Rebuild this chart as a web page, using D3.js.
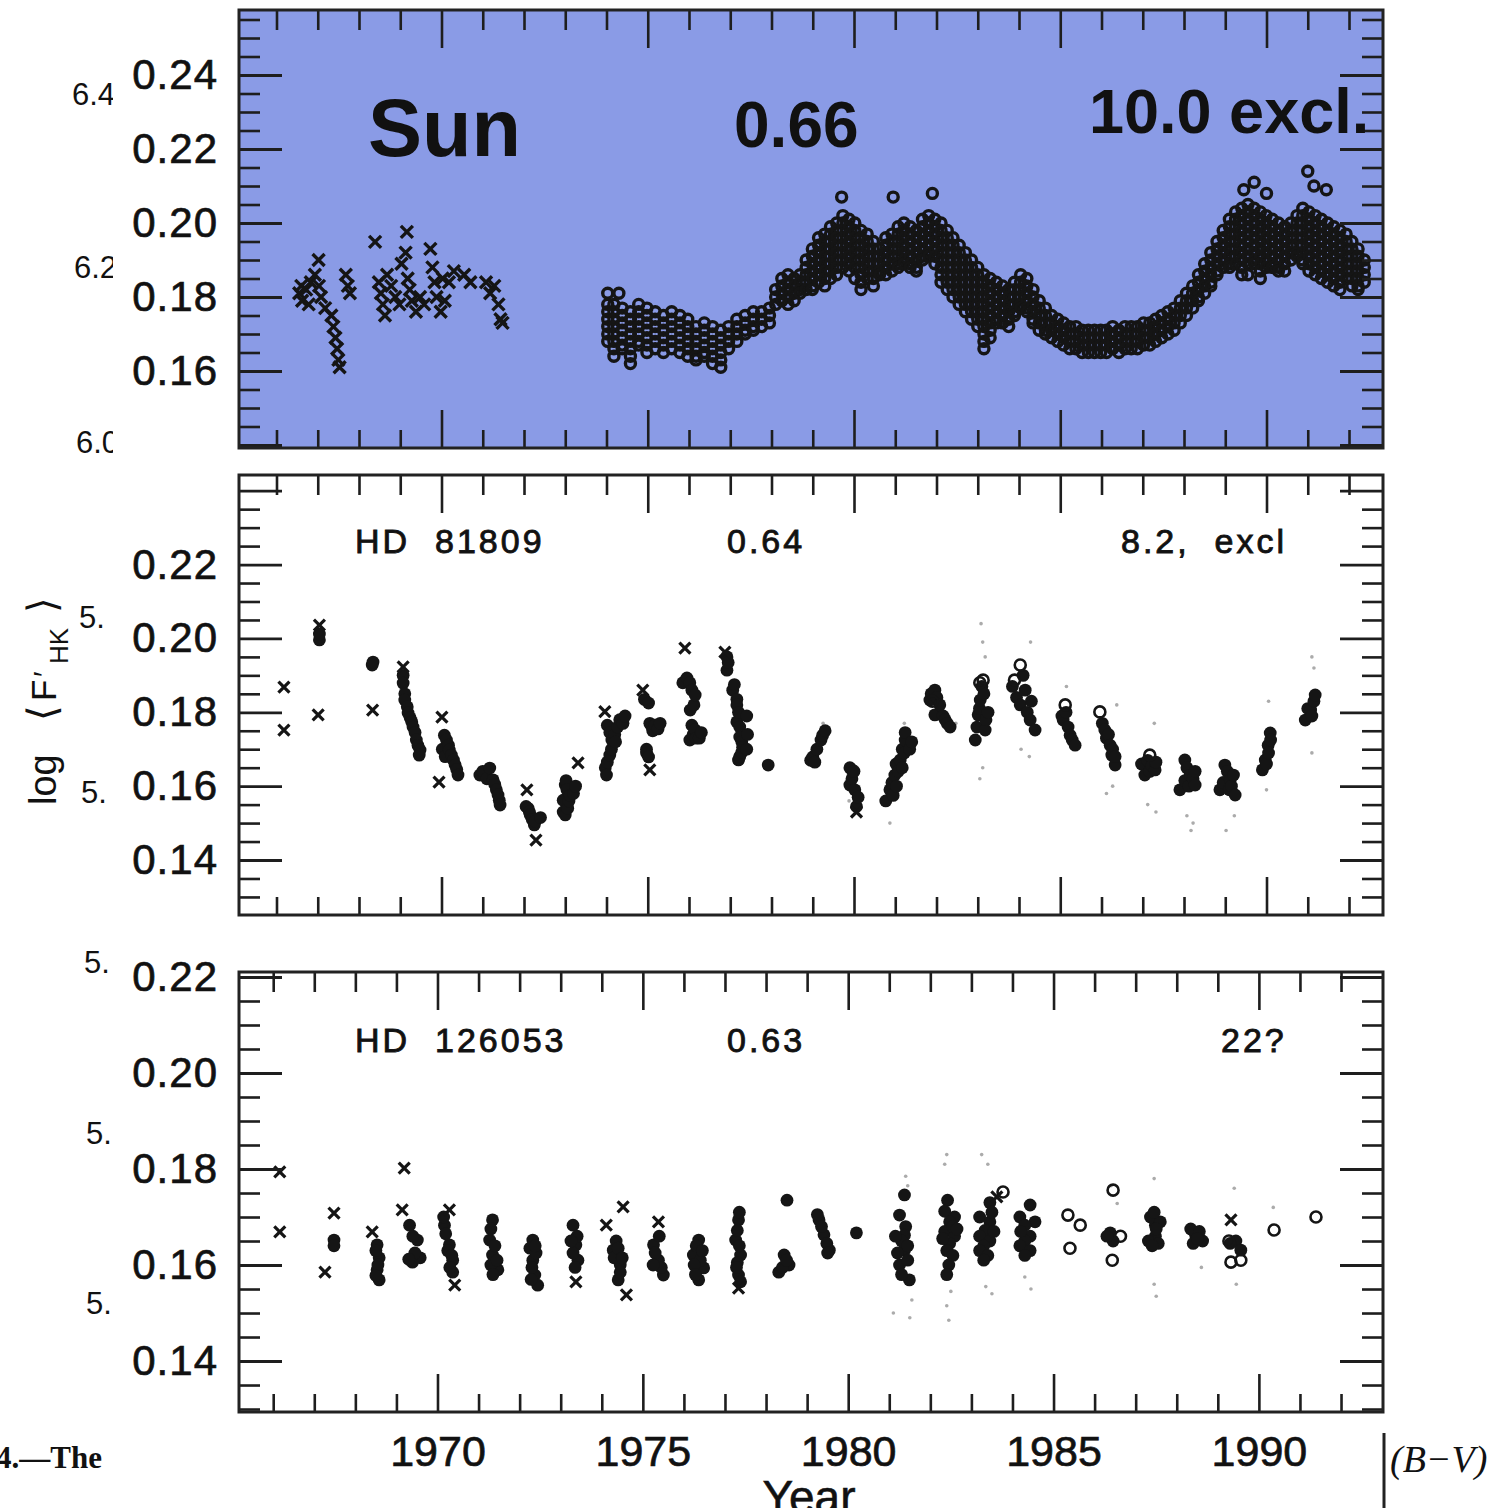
<!DOCTYPE html>
<html>
<head>
<meta charset="utf-8">
<script src="https://cdn.jsdelivr.net/npm/d3@7"></script>
<style>
  html, body { margin: 0; padding: 0; background: #fff; }
  svg { display: block; }
  text { font-family: "Liberation Sans", Arial, sans-serif; fill: #111; }
</style>
</head>
<body>
<svg id="fig" width="1503" height="1508"></svg>
<script>
// ---------- tick labels ----------
const yearTickLabels = [1970, 1975, 1980, 1985, 1990];
const sunYLabels = [0.16, 0.18, 0.20, 0.22, 0.24];
const hd81809YLabels = [0.14, 0.16, 0.18, 0.20, 0.22];
const hd126053YLabels = [0.14, 0.16, 0.18, 0.20, 0.22];

// ---------- panel headings ----------
const starNames = ["Sun", "HD  81809", "HD  126053"];
const colourIndices = ["0.66", "0.64", "0.63"];
const cycleNotes = ["10.0 excl.", "8.2,  excl", "22?"];

// ---------- Sun: log <F'HK>, early observations (crosses) ----------
const sunCycle20 = [
  [1966.55,0.181],[1966.60,0.183],[1966.62,0.179],[1966.72,0.182],[1966.78,0.178],[1966.83,0.184],
  [1966.93,0.186],[1967.02,0.190],[1967.03,0.183],[1967.08,0.180],[1967.18,0.177],
  [1967.33,0.175],[1967.38,0.172],[1967.43,0.169],[1967.47,0.166],[1967.50,0.163],[1967.53,0.161],
  [1967.68,0.186],[1967.73,0.183],[1967.78,0.181],
  [1968.39,0.1949],[1968.48,0.184],[1968.53,0.181],[1968.58,0.178],[1968.63,0.175],[1968.68,0.186],
  [1968.78,0.183],[1968.88,0.180],[1968.98,0.178],[1969.03,0.189],[1969.16,0.1976],[1969.13,0.192],
  [1969.18,0.185],[1969.23,0.182],[1969.28,0.179],[1969.38,0.176],[1969.48,0.180],[1969.58,0.178],
  [1969.73,0.193],[1969.78,0.188],[1969.83,0.184],[1969.88,0.180],[1969.98,0.176],[1970.03,0.185],
  [1970.08,0.179],[1970.18,0.184],[1970.30,0.187],[1970.55,0.186],[1970.70,0.184],
  [1971.08,0.184],[1971.18,0.181],[1971.28,0.183],[1971.38,0.178],[1971.43,0.174],[1971.48,0.173]
];

// ---------- Sun: seasonal columns [year, values...] ----------
const sunCycle21 = [
  [1974.03,0.181,0.178,0.176,0.174,0.172,0.170,0.168],
  [1974.18,0.178,0.176,0.174,0.172,0.170,0.168,0.166,0.164],
  [1974.38,0.177,0.175,0.173,0.171,0.169,0.167,0.166],
  [1974.58,0.176,0.174,0.172,0.170,0.168,0.166,0.164,0.162],
  [1974.78,0.178,0.176,0.174,0.172,0.170,0.168,0.167],
  [1974.98,0.177,0.175,0.173,0.171,0.169,0.167,0.165],
  [1975.18,0.176,0.174,0.172,0.170,0.168,0.166],
  [1975.38,0.175,0.173,0.171,0.169,0.167,0.165],
  [1975.58,0.176,0.174,0.172,0.170,0.168,0.166],
  [1975.78,0.175,0.173,0.171,0.169,0.167,0.165],
  [1975.97,0.174,0.172,0.170,0.168,0.166,0.164],
  [1976.17,0.172,0.170,0.168,0.166,0.164,0.163],
  [1976.37,0.173,0.171,0.169,0.167,0.165,0.164],
  [1976.57,0.172,0.170,0.168,0.166,0.164,0.162],
  [1976.77,0.171,0.169,0.167,0.165,0.163,0.161],
  [1976.96,0.172,0.170,0.168,0.166],
  [1977.16,0.174,0.172,0.170,0.168],
  [1977.36,0.175,0.173,0.171,0.170],
  [1977.56,0.176,0.174,0.172,0.171],
  [1977.76,0.176,0.174,0.172],
  [1977.95,0.177,0.175,0.173],
  [1978.10,0.182,0.180,0.178],
  [1978.25,0.185,0.183,0.181,0.179],
  [1978.40,0.186,0.184,0.182,0.180,0.178],
  [1978.55,0.185,0.183,0.181,0.179],
  [1978.69,0.186,0.184,0.182,0.181],
  [1978.84,0.190,0.188,0.186,0.184,0.182],
  [1978.99,0.193,0.191,0.189,0.187,0.185,0.183,0.182],
  [1979.14,0.196,0.194,0.192,0.190,0.188,0.186,0.184],
  [1979.29,0.197,0.195,0.193,0.191,0.189,0.187,0.185,0.183],
  [1979.43,0.199,0.197,0.195,0.193,0.191,0.189,0.187,0.185],
  [1979.58,0.200,0.198,0.196,0.194,0.192,0.190,0.188,0.186],
  [1979.73,0.202,0.200,0.198,0.196,0.194,0.192,0.190,0.188],
  [1979.88,0.201,0.199,0.197,0.195,0.193,0.191,0.189,0.187],
  [1980.02,0.200,0.198,0.196,0.194,0.192,0.190,0.188,0.185],
  [1980.17,0.198,0.196,0.194,0.192,0.190,0.188,0.186,0.184,0.182],
  [1980.32,0.197,0.195,0.193,0.191,0.189,0.187,0.185],
  [1980.47,0.195,0.193,0.191,0.189,0.187,0.185,0.183],
  [1980.62,0.193,0.191,0.189,0.187,0.186],
  [1980.77,0.196,0.194,0.192,0.190,0.188,0.186],
  [1980.92,0.197,0.195,0.193,0.191,0.189,0.187],
  [1981.07,0.199,0.197,0.195,0.193,0.191,0.189,0.188],
  [1981.21,0.200,0.198,0.196,0.194,0.192,0.190,0.189],
  [1981.36,0.199,0.197,0.195,0.193,0.191,0.189,0.188],
  [1981.51,0.198,0.196,0.194,0.192,0.190,0.188,0.187],
  [1981.66,0.201,0.199,0.197,0.195,0.193,0.191,0.190],
  [1981.81,0.202,0.200,0.198,0.196,0.194,0.192,0.191],
  [1981.96,0.201,0.199,0.197,0.195,0.193,0.191,0.189],
  [1982.11,0.200,0.198,0.196,0.194,0.192,0.190,0.188,0.186,0.184],
  [1982.26,0.198,0.196,0.194,0.192,0.190,0.188,0.186,0.184,0.182],
  [1982.40,0.196,0.194,0.192,0.190,0.188,0.186,0.184,0.182,0.180],
  [1982.55,0.194,0.192,0.190,0.188,0.186,0.184,0.182,0.180,0.178],
  [1982.70,0.192,0.190,0.188,0.186,0.184,0.182,0.180,0.178,0.176],
  [1982.85,0.190,0.188,0.186,0.184,0.182,0.180,0.178,0.176,0.174],
  [1983.00,0.188,0.186,0.184,0.182,0.180,0.178,0.176,0.174,0.172],
  [1983.15,0.186,0.184,0.182,0.180,0.178,0.176,0.174,0.172,0.170,0.168,0.166],
  [1983.30,0.185,0.183,0.181,0.179,0.177,0.175,0.173,0.171,0.169],
  [1983.45,0.184,0.182,0.180,0.178,0.176,0.174,0.173],
  [1983.60,0.183,0.181,0.179,0.177,0.175,0.173],
  [1983.75,0.182,0.180,0.178,0.176,0.174,0.172],
  [1983.89,0.184,0.182,0.180,0.178,0.176,0.175],
  [1984.04,0.186,0.184,0.182,0.180,0.178,0.177],
  [1984.19,0.185,0.183,0.181,0.179,0.177,0.176],
  [1984.34,0.182,0.180,0.178,0.176,0.174,0.173],
  [1984.49,0.179,0.177,0.175,0.173,0.171],
  [1984.64,0.177,0.175,0.173,0.171,0.170],
  [1984.79,0.175,0.173,0.171,0.169],
  [1984.94,0.174,0.172,0.170,0.168],
  [1985.08,0.173,0.171,0.169,0.167],
  [1985.23,0.172,0.170,0.168,0.166],
  [1985.38,0.172,0.170,0.168,0.166],
  [1985.53,0.171,0.169,0.167,0.165],
  [1985.68,0.171,0.169,0.167,0.165],
  [1985.83,0.171,0.169,0.167,0.165],
  [1985.98,0.171,0.169,0.167,0.165]
];

const sunCycle22 = [
  [1986.12,0.171,0.169,0.167,0.165],
  [1986.27,0.172,0.170,0.168,0.166],
  [1986.42,0.171,0.169,0.167,0.165],
  [1986.57,0.172,0.170,0.168,0.166],
  [1986.72,0.172,0.170,0.168,0.166],
  [1986.87,0.172,0.170,0.168,0.166],
  [1987.02,0.173,0.171,0.169,0.167],
  [1987.17,0.173,0.171,0.169,0.167],
  [1987.31,0.174,0.172,0.170,0.168],
  [1987.46,0.175,0.173,0.171,0.169],
  [1987.61,0.176,0.174,0.172,0.170],
  [1987.76,0.177,0.175,0.173,0.171],
  [1987.91,0.179,0.177,0.175,0.173],
  [1988.06,0.181,0.179,0.177,0.175],
  [1988.21,0.183,0.181,0.179,0.177],
  [1988.35,0.186,0.184,0.182,0.180,0.179],
  [1988.50,0.189,0.187,0.185,0.183,0.181],
  [1988.65,0.192,0.190,0.188,0.186,0.184,0.183],
  [1988.80,0.195,0.193,0.191,0.189,0.187,0.186],
  [1988.95,0.198,0.196,0.194,0.192,0.190,0.188],
  [1989.10,0.201,0.199,0.197,0.195,0.193,0.191,0.189,0.188],
  [1989.25,0.203,0.201,0.199,0.197,0.195,0.193,0.191,0.189],
  [1989.40,0.204,0.202,0.200,0.198,0.196,0.194,0.192,0.190,0.188,0.186],
  [1989.55,0.205,0.203,0.201,0.199,0.197,0.195,0.193,0.191,0.189,0.186],
  [1989.70,0.204,0.202,0.200,0.198,0.196,0.194,0.192,0.190,0.189],
  [1989.85,0.203,0.201,0.199,0.197,0.195,0.193,0.191,0.189,0.187,0.185],
  [1989.99,0.202,0.200,0.198,0.196,0.194,0.192,0.190,0.188],
  [1990.14,0.201,0.199,0.197,0.195,0.193,0.191,0.189,0.188],
  [1990.29,0.200,0.198,0.196,0.194,0.192,0.190,0.188,0.187],
  [1990.44,0.199,0.197,0.195,0.193,0.191,0.189,0.187],
  [1990.59,0.200,0.198,0.196,0.194,0.192,0.190],
  [1990.74,0.202,0.200,0.198,0.196,0.194,0.192,0.191],
  [1990.88,0.204,0.202,0.200,0.198,0.196,0.194,0.192,0.190,0.189],
  [1991.03,0.203,0.201,0.199,0.197,0.195,0.193,0.191,0.189,0.187],
  [1991.18,0.202,0.200,0.198,0.196,0.194,0.192,0.190,0.188,0.186],
  [1991.33,0.201,0.199,0.197,0.195,0.193,0.191,0.189,0.187,0.185],
  [1991.48,0.200,0.198,0.196,0.194,0.192,0.190,0.188,0.186,0.184],
  [1991.63,0.199,0.197,0.195,0.193,0.191,0.189,0.187,0.185,0.183],
  [1991.78,0.198,0.196,0.194,0.192,0.190,0.188,0.186,0.184,0.182],
  [1991.93,0.197,0.195,0.193,0.191,0.189,0.187,0.185],
  [1992.07,0.195,0.193,0.191,0.189,0.187,0.185,0.183],
  [1992.22,0.193,0.191,0.189,0.187,0.185,0.183,0.182],
  [1992.37,0.190,0.188,0.186,0.184]
];

const sunOutliers = [
  [1974.30,0.181],[1979.70,0.207],[1980.95,0.207],[1981.90,0.208],
  [1989.45,0.209],[1989.70,0.211],[1990.00,0.208],[1991.00,0.214],[1991.15,0.210],[1991.45,0.209]
];

// ---------- HD 81809 ----------
const hd81809Cross = [
  [1966.18,0.1868],[1966.18,0.1752],[1967.04,0.2036],[1967.01,0.1793],[1968.33,0.1806],[1969.07,0.1923],
  [1970.01,0.1787],[1969.94,0.1611],[1972.07,0.1590],[1972.29,0.1454],[1973.31,0.1663],[1973.96,0.1802],
  [1974.88,0.1860],[1975.05,0.1644],[1975.90,0.1974],[1976.87,0.1963],[1980.06,0.1530]
];
const hd81809Fill = [
  [1967.04,0.1996],[1967.04,0.2012],[1968.32,0.1928],[1968.34,0.1936],
  [1969.07,0.1900],[1969.07,0.1879],[1969.11,0.1850],[1969.11,0.1833],[1969.17,0.1815],[1969.19,0.1798],
  [1969.24,0.1785],[1969.28,0.1774],[1969.31,0.1760],[1969.36,0.1745],[1969.39,0.1725],[1969.43,0.1710],
  [1969.48,0.1698],[1969.46,0.1684],
  [1970.02,0.1700],[1970.07,0.1738],[1970.09,0.1680],[1970.12,0.1725],[1970.17,0.1711],[1970.19,0.1698],
  [1970.24,0.1684],[1970.29,0.1671],[1970.33,0.1657],[1970.37,0.1645],[1970.40,0.1630],
  [1970.93,0.1630],[1971.00,0.1640],[1971.10,0.1620],[1971.17,0.1649],[1971.25,0.1617],[1971.29,0.1605],
  [1971.33,0.1590],[1971.37,0.1576],[1971.40,0.1562],[1971.42,0.1549],
  [1972.05,0.1545],[1972.10,0.1540],[1972.13,0.1530],[1972.15,0.1522],[1972.20,0.1510],[1972.25,0.1495],
  [1972.27,0.1505],[1972.40,0.1515],
  [1972.95,0.1562],[1972.95,0.1530],[1973.00,0.1603],[1973.00,0.1522],[1973.02,0.1615],[1973.04,0.1590],
  [1973.06,0.1540],[1973.09,0.1560],[1973.12,0.1575],[1973.20,0.1580],[1973.25,0.1600],
  [1973.97,0.1650],[1974.00,0.1630],[1974.02,0.1665],[1974.02,0.1765],[1974.08,0.1684],[1974.08,0.1745],
  [1974.12,0.1700],[1974.13,0.1725],[1974.20,0.1740],[1974.22,0.1720],[1974.27,0.1760],[1974.32,0.1780],
  [1974.40,0.1770],[1974.45,0.1790],
  [1974.92,0.1835],[1974.97,0.1690],[1974.97,0.1700],[1975.02,0.1825],[1975.02,0.1679],[1975.05,0.1770],
  [1975.10,0.1760],[1975.12,0.1750],[1975.18,0.1765],[1975.25,0.1755],[1975.30,0.1770],
  [1975.85,0.1880],[1975.95,0.1893],[1976.02,0.1880],[1976.02,0.1725],[1976.03,0.1806],[1976.07,0.1860],
  [1976.07,0.1765],[1976.10,0.1740],[1976.12,0.1820],[1976.15,0.1847],[1976.15,0.1752],[1976.17,0.1730],
  [1976.25,0.1730],[1976.30,0.1745],
  [1976.92,0.1914],[1976.92,0.1950],[1976.95,0.1935],[1977.06,0.1860],[1977.10,0.1875],[1977.16,0.1835],
  [1977.16,0.1820],[1977.16,0.1774],[1977.20,0.1800],[1977.20,0.1671],[1977.23,0.1760],[1977.23,0.1733],
  [1977.23,0.1680],[1977.28,0.1720],[1977.28,0.1692],[1977.30,0.1705],[1977.40,0.1790],[1977.42,0.1740],
  [1977.40,0.1700],
  [1977.92,0.1657],
  [1978.95,0.1670],[1979.00,0.1679],[1979.05,0.1665],[1979.10,0.1700],[1979.20,0.1725],[1979.24,0.1738],[1979.30,0.1750],
  [1979.90,0.1650],[1979.90,0.1603],[1979.95,0.1644],[1979.95,0.1620],[1980.00,0.1640],[1980.02,0.1590],
  [1980.06,0.1545],[1980.10,0.1570],
  [1980.77,0.1560],[1980.87,0.1590],[1980.92,0.1610],[1980.95,0.1575],[1980.99,0.1630],[1981.02,0.1660],
  [1981.03,0.1600],[1981.07,0.1640],[1981.12,0.1671],[1981.17,0.1700],[1981.17,0.1650],[1981.22,0.1690],
  [1981.24,0.1725],[1981.24,0.1745],[1981.35,0.1700],[1981.40,0.1720],
  [1981.84,0.1833],[1981.87,0.1850],[1981.96,0.1860],[1981.96,0.1793],[1982.01,0.1840],[1982.08,0.1820],
  [1982.16,0.1790],[1982.21,0.1780],[1982.26,0.1770],[1982.33,0.1760],
  [1982.94,0.1725],[1982.98,0.1760],[1983.01,0.1793],[1983.04,0.1810],[1983.06,0.1833],[1983.10,0.1870],
  [1983.15,0.1850],[1983.18,0.1752],[1983.20,0.1780],[1983.25,0.1800],
  [1983.84,0.1870],[1983.94,0.1840],[1984.03,0.1820],[1984.10,0.1900],[1984.15,0.1860],[1984.20,0.1800],
  [1984.27,0.1779],[1984.30,0.1830],[1984.39,0.1752],
  [1985.04,0.1790],[1985.07,0.1779],[1985.14,0.1800],[1985.19,0.1760],[1985.24,0.1738],[1985.29,0.1725],[1985.36,0.1711],
  [1986.02,0.1770],[1986.08,0.1752],[1986.12,0.1730],[1986.17,0.1740],[1986.21,0.1711],[1986.25,0.1684],
  [1986.27,0.1700],[1986.33,0.1657],[1986.33,0.1680],
  [1986.97,0.1660],[1987.05,0.1657],[1987.05,0.1630],[1987.12,0.1670],[1987.17,0.1640],[1987.22,0.1655],
  [1987.30,0.1644],[1987.32,0.1665],
  [1987.90,0.1590],[1988.02,0.1671],[1988.02,0.1615],[1988.07,0.1650],[1988.12,0.1600],[1988.15,0.1630],
  [1988.22,0.1620],[1988.27,0.1603],[1988.27,0.1640],
  [1988.87,0.1590],[1988.95,0.1610],[1988.99,0.1657],[1989.05,0.1640],[1989.10,0.1590],[1989.12,0.1617],
  [1989.15,0.1600],[1989.20,0.1630],[1989.24,0.1576],
  [1989.90,0.1644],[1989.97,0.1671],[1990.00,0.1660],[1990.04,0.1711],[1990.05,0.1690],[1990.09,0.1744],[1990.10,0.1725],
  [1990.94,0.1779],[1991.00,0.1810],[1991.07,0.1806],[1991.10,0.1790],[1991.15,0.1830],[1991.18,0.1847]
];
const hd81809Open = [
  [1981.90,0.1830],[1983.13,0.1887],[1983.05,0.1880],[1984.03,0.1928],[1983.89,0.1887],
  [1985.12,0.1820],[1985.96,0.1801],[1987.17,0.1684]
];
const hd81809Faint = [
  [1979.25,0.1770],[1979.88,0.1560],[1980.87,0.1500],[1981.22,0.1770],[1982.47,0.1770],
  [1983.08,0.2040],[1983.12,0.1990],[1983.18,0.1950],[1983.12,0.1650],[1983.05,0.1620],
  [1984.28,0.1990],[1984.05,0.1700],[1984.25,0.1680],[1985.15,0.1870],[1986.37,0.1820],
  [1986.12,0.1580],[1986.27,0.1600],[1987.28,0.1770],[1987.12,0.1550],[1987.32,0.1530],
  [1988.02,0.1640],[1988.07,0.1520],[1988.22,0.1500],[1988.17,0.1480],[1989.12,0.1640],
  [1989.02,0.1480],[1989.22,0.1520],[1990.05,0.1830],[1990.00,0.1590],[1991.10,0.1950],
  [1991.15,0.1920],[1991.10,0.1690]
];

// ---------- HD 126053 ----------
const hd126053Cross = [
  [1966.16,0.1794],[1966.16,0.1669],[1967.48,0.1708],[1967.26,0.1585],[1968.41,0.1669],[1969.19,0.1802],
  [1969.14,0.1715],[1970.29,0.1715],[1970.42,0.1558],[1973.37,0.1565],[1974.52,0.1721],[1974.11,0.1683],
  [1974.60,0.1538],[1975.38,0.1690],[1977.33,0.1552],[1983.62,0.1742],[1989.32,0.1694]
];
const hd126053Fill = [
  [1967.48,0.1652],[1967.48,0.1640],
  [1968.53,0.1642],[1968.58,0.1615],[1968.53,0.1590],[1968.58,0.1569],[1968.50,0.1630],[1968.55,0.1600],[1968.50,0.1578],
  [1969.32,0.1683],[1969.51,0.1652],[1969.39,0.1606],[1969.58,0.1615],[1969.45,0.1625],[1969.40,0.1660],[1969.30,0.1612],
  [1970.17,0.1683],[1970.29,0.1642],[1970.37,0.1610],[1970.37,0.1585],[1970.20,0.1665],[1970.25,0.1630],
  [1970.30,0.1595],[1970.15,0.1700],[1970.35,0.1620],
  [1971.34,0.1694],[1971.27,0.1652],[1971.34,0.1621],[1971.47,0.1590],[1971.40,0.1640],[1971.30,0.1600],
  [1971.45,0.1610],[1971.35,0.1580],[1971.30,0.1675],
  [1972.32,0.1652],[1972.32,0.1610],[1972.37,0.1579],[1972.44,0.1558],[1972.25,0.1635],[1972.40,0.1625],
  [1972.30,0.1595],[1972.38,0.1640],[1972.28,0.1570],
  [1973.30,0.1683],[1973.37,0.1642],[1973.42,0.1610],[1973.30,0.1625],[1973.40,0.1660],[1973.35,0.1595],[1973.25,0.1650],
  [1974.28,0.1631],[1974.45,0.1600],[1974.40,0.1569],[1974.35,0.1650],[1974.30,0.1615],[1974.45,0.1585],
  [1974.40,0.1635],[1974.50,0.1615],
  [1975.26,0.1642],[1975.38,0.1610],[1975.50,0.1579],[1975.30,0.1625],[1975.45,0.1595],[1975.40,0.1660],[1975.25,0.1600],
  [1976.36,0.1652],[1976.23,0.1621],[1976.48,0.1594],[1976.36,0.1569],[1976.30,0.1640],[1976.40,0.1610],
  [1976.25,0.1600],[1976.45,0.1630],[1976.28,0.1580],
  [1977.33,0.1694],[1977.26,0.1652],[1977.38,0.1621],[1977.33,0.1579],[1977.30,0.1672],[1977.35,0.1640],
  [1977.30,0.1605],[1977.38,0.1565],[1977.28,0.1595],[1977.35,0.1710],
  [1978.51,0.1735],[1978.44,0.1621],[1978.56,0.1600],[1978.31,0.1585],[1978.40,0.1595],[1978.50,0.1610],
  [1979.29,0.1694],[1979.41,0.1663],[1979.54,0.1631],[1979.35,0.1680],[1979.48,0.1645],[1979.50,0.1625],[1979.25,0.1705],
  [1980.20,0.1667],
  [1981.37,0.1746],[1981.25,0.1704],[1981.40,0.1680],[1981.37,0.1662],[1981.37,0.1631],[1981.25,0.1600],
  [1981.49,0.1569],[1981.30,0.1650],[1981.45,0.1640],[1981.20,0.1625],[1981.30,0.1580],[1981.45,0.1610],[1981.15,0.1660],
  [1982.42,0.1735],[1982.35,0.1712],[1982.59,0.1700],[1982.47,0.1690],[1982.35,0.1670],[1982.59,0.1660],
  [1982.47,0.1645],[1982.40,0.1630],[1982.55,0.1620],[1982.45,0.1600],[1982.40,0.1580],[1982.55,0.1680],
  [1982.30,0.1655],[1982.65,0.1675],
  [1983.45,0.1730],[1983.20,0.1700],[1983.45,0.1690],[1983.33,0.1672],[1983.20,0.1660],[1983.45,0.1650],
  [1983.30,0.1640],[1983.20,0.1630],[1983.40,0.1620],[1983.30,0.1610],[1983.55,0.1670],[1983.50,0.1710],
  [1984.43,0.1725],[1984.18,0.1700],[1984.55,0.1690],[1984.30,0.1683],[1984.43,0.1660],[1984.30,0.1650],
  [1984.18,0.1640],[1984.43,0.1630],[1984.30,0.1620],[1984.20,0.1670],
  [1986.38,0.1667],[1986.45,0.1650],[1986.30,0.1660],
  [1987.48,0.1683],[1987.36,0.1700],[1987.60,0.1690],[1987.48,0.1660],[1987.31,0.1650],[1987.55,0.1645],
  [1987.40,0.1640],[1987.45,0.1710],[1987.50,0.1675],
  [1988.46,0.1662],[1988.34,0.1675],[1988.63,0.1650],[1988.40,0.1645],[1988.55,0.1670],[1988.50,0.1655],
  [1989.44,0.1650],[1989.56,0.1631],[1989.30,0.1645]
];
const hd126053Open = [
  [1983.77,0.1752],[1985.35,0.1704],[1985.65,0.1683],[1985.40,0.1635],[1986.45,0.1756],[1986.63,0.1660],
  [1986.43,0.1610],[1989.27,0.1650],[1989.32,0.1606],[1989.56,0.1610],[1990.37,0.1673],[1991.39,0.1700]
];
const hd126053Faint = [
  [1981.40,0.1785],[1981.45,0.1765],[1981.55,0.1527],[1981.50,0.1490],[1981.10,0.1500],[1982.40,0.1830],
  [1982.35,0.1810],[1982.50,0.1545],[1982.40,0.1515],[1982.45,0.1485],[1983.25,0.1830],[1983.40,0.1810],
  [1983.35,0.1555],[1983.50,0.1540],[1984.45,0.1720],[1984.30,0.1575],[1984.45,0.1550],[1986.40,0.1765],
  [1986.55,0.1728],[1987.45,0.1780],[1987.45,0.1560],[1987.50,0.1535],[1988.60,0.1595],[1989.40,0.1760],
  [1989.45,0.1560],[1990.35,0.1720]
];

// ---------- layout ----------
const svg = d3.select("#fig");
const frameLeft = 239, frameRight = 1383;
const ink = "#151515";

const expandRows = rows => rows.flatMap(([t, ...vs]) => vs.map(v => [t, v]));

const panels = [
  { id: "sun", top: 10, bottom: 448, bg: "#8a9be6",
    xDomain: [1965.091, 1992.824], yDomain: [0.13919, 0.25757], yLabels: sunYLabels,
    cross: [6, 3.4], open: [5, 3.4],
    marks: [
      { kind: "cross", data: sunCycle20 },
      { kind: "open", data: expandRows(sunCycle21) },
      { kind: "open", data: expandRows(sunCycle22) },
      { kind: "open", data: sunOutliers }
    ] },
  { id: "hd81809", top: 475, bottom: 915, bg: "#ffffff",
    xDomain: [1965.091, 1992.824], yDomain: [0.12511, 0.24425], yLabels: hd81809YLabels,
    cross: [5.5, 3.2], open: [5.5, 2.6],
    marks: [
      { kind: "faint", data: hd81809Faint },
      { kind: "fill", data: hd81809Fill },
      { kind: "open", data: hd81809Open },
      { kind: "cross", data: hd81809Cross }
    ] },
  { id: "hd126053", top: 972, bottom: 1412, bg: "#ffffff", xLabels: true,
    xDomain: [1965.167, 1993.022], yDomain: [0.12938, 0.22104], yLabels: hd126053YLabels,
    cross: [5.5, 3.2], open: [5.5, 2.6],
    marks: [
      { kind: "faint", data: hd126053Faint },
      { kind: "fill", data: hd126053Fill },
      { kind: "open", data: hd126053Open },
      { kind: "cross", data: hd126053Cross }
    ] }
];

const defs = svg.append("defs");

panels.forEach(p => {
  const x = d3.scaleLinear().domain(p.xDomain).range([frameLeft, frameRight]);
  const y = d3.scaleLinear().domain(p.yDomain).range([p.bottom, p.top]);
  const g = svg.append("g").attr("class", "panel-" + p.id);

  // panel background
  g.append("rect").attr("x", frameLeft).attr("y", p.top)
    .attr("width", frameRight - frameLeft).attr("height", p.bottom - p.top)
    .attr("fill", p.bg);

  defs.append("clipPath").attr("id", "clip-" + p.id)
    .append("rect").attr("x", frameLeft + 1).attr("y", p.top + 1)
    .attr("width", frameRight - frameLeft - 2).attr("height", p.bottom - p.top - 2);

  // data marks
  const mg = g.append("g").attr("clip-path", `url(#clip-${p.id})`);
  const [cs, cw] = p.cross;
  const [or, ow] = p.open;
  p.marks.forEach(m => {
    if (m.kind === "cross") {
      mg.append("g").selectAll("path").data(m.data).join("path")
        .attr("transform", d => `translate(${x(d[0])},${y(d[1])})`)
        .attr("d", `M${-cs},${-cs}L${cs},${cs}M${-cs},${cs}L${cs},${-cs}`)
        .attr("stroke", ink).attr("stroke-width", cw).attr("fill", "none");
    } else if (m.kind === "open") {
      mg.append("g").selectAll("circle").data(m.data).join("circle")
        .attr("cx", d => x(d[0])).attr("cy", d => y(d[1])).attr("r", or)
        .attr("fill", "none").attr("stroke", ink).attr("stroke-width", ow);
    } else if (m.kind === "fill") {
      mg.append("g").selectAll("circle").data(m.data).join("circle")
        .attr("cx", d => x(d[0])).attr("cy", d => y(d[1])).attr("r", 6.4)
        .attr("fill", ink);
    } else {
      mg.append("g").selectAll("circle").data(m.data).join("circle")
        .attr("cx", d => x(d[0])).attr("cy", d => y(d[1])).attr("r", 1.8)
        .attr("fill", "#888").attr("opacity", 0.7);
    }
  });

  // tick values
  const yMinor = d3.range(Math.ceil(p.yDomain[0] * 200), Math.floor(p.yDomain[1] * 200) + 1)
    .filter(k => k % 4 !== 0).map(k => k / 200);
  const yMajor = d3.range(Math.ceil(p.yDomain[0] * 50), Math.floor(p.yDomain[1] * 50) + 1).map(k => k / 50);
  const yearMinor = d3.range(1966, 1993).filter(t => t % 5 !== 0);
  const yearMajor = d3.range(1966, 1993).filter(t => t % 5 === 0);
  const labelSet = new Set(p.yLabels.map(v => v.toFixed(2)));

  const styleAxis = (sel, w) => {
    sel.select(".domain").remove();
    sel.selectAll(".tick line").attr("stroke", "#1e1e1e").attr("stroke-width", w);
  };
  const styleLabels = (sel, size) => sel.selectAll("text")
    .attr("font-size", size).attr("fill", ink).attr("stroke", ink).attr("stroke-width", 0.7)
    .attr("font-family", "Liberation Sans, Arial, sans-serif");

  // left axis
  g.append("g").attr("transform", `translate(${frameLeft},0)`)
    .call(d3.axisLeft(y).tickValues(yMinor).tickSize(-21).tickFormat(""))
    .call(sel => styleAxis(sel, 2.6));
  g.append("g").attr("transform", `translate(${frameLeft},0)`)
    .call(d3.axisLeft(y).tickValues(yMajor).tickSize(-43).tickPadding(21)
      .tickFormat(v => labelSet.has(v.toFixed(2)) ? v.toFixed(2) : ""))
    .call(sel => styleAxis(sel, 2.8))
    .call(sel => styleLabels(sel, 42).attr("letter-spacing", 1));

  // right axis
  g.append("g").attr("transform", `translate(${frameRight},0)`)
    .call(d3.axisRight(y).tickValues(yMinor).tickSize(-21).tickFormat(""))
    .call(sel => styleAxis(sel, 2.6));
  g.append("g").attr("transform", `translate(${frameRight},0)`)
    .call(d3.axisRight(y).tickValues(yMajor).tickSize(-43).tickFormat(""))
    .call(sel => styleAxis(sel, 2.8));

  // top axis
  g.append("g").attr("transform", `translate(0,${p.top})`)
    .call(d3.axisTop(x).tickValues(yearMinor).tickSize(-20).tickFormat(""))
    .call(sel => styleAxis(sel, 2.6));
  g.append("g").attr("transform", `translate(0,${p.top})`)
    .call(d3.axisTop(x).tickValues(yearMajor).tickSize(-38).tickFormat(""))
    .call(sel => styleAxis(sel, 2.6));

  // bottom axis
  g.append("g").attr("transform", `translate(0,${p.bottom})`)
    .call(d3.axisBottom(x).tickValues(yearMinor).tickSize(-18).tickFormat(""))
    .call(sel => styleAxis(sel, 2.6));
  g.append("g").attr("transform", `translate(0,${p.bottom})`)
    .call(d3.axisBottom(x).tickValues(p.xLabels ? yearTickLabels : yearMajor).tickSize(-38).tickPadding(23)
      .tickFormat(p.xLabels ? d3.format("d") : ""))
    .call(sel => styleAxis(sel, 2.6))
    .call(sel => styleLabels(sel, 43));

  // frame
  g.append("rect").attr("x", frameLeft).attr("y", p.top)
    .attr("width", frameRight - frameLeft).attr("height", p.bottom - p.top)
    .attr("fill", "none").attr("stroke", "#222").attr("stroke-width", 3);
});

// ---------- panel headings ----------
const head = svg.append("g");
head.append("text").attr("x", 368).attr("y", 156).attr("font-size", 81).attr("font-weight", "bold")
  .text(starNames[0]);
head.append("text").attr("x", 734).attr("y", 147).attr("font-size", 64).attr("font-weight", "bold")
  .text(colourIndices[0]);
head.append("text").attr("x", 1089).attr("y", 133).attr("font-size", 63).attr("font-weight", "bold")
  .text(cycleNotes[0]);

const subHeads = [
  { base: 553, i: 1, noteX: 1121 },
  { base: 1052, i: 2, noteX: 1221 }
];
subHeads.forEach(h => {
  const t = head.append("g").attr("font-size", 34).attr("letter-spacing", 3)
    .attr("stroke", ink).attr("stroke-width", 0.9).style("white-space", "pre");
  t.append("text").attr("x", 355).attr("y", h.base).attr("xml:space", "preserve").text(starNames[h.i]);
  t.append("text").attr("x", 727).attr("y", h.base).text(colourIndices[h.i]);
  t.append("text").attr("x", h.noteX).attr("y", h.base)
    .attr("xml:space", "preserve").text(cycleNotes[h.i]);
});

// ---------- partly covered scale numbers at the far left ----------
defs.append("clipPath").attr("id", "clip-leftcol")
  .append("rect").attr("x", 0).attr("y", 0).attr("width", 113).attr("height", 1430);
const stale = svg.append("g").attr("clip-path", "url(#clip-leftcol)")
  .attr("font-size", 31).attr("fill", "#2a2a2a");
[["6.4", 72, 105], ["6.2", 74, 278], ["6.0", 76, 453],
 ["5.", 79, 628], ["5.", 81, 803],
 ["5.", 84, 973], ["5.", 86, 1144], ["5.", 86, 1314]]
  .forEach(([str, xx, yy]) => stale.append("text").attr("x", xx).attr("y", yy).text(str));

// ---------- y-axis title: log <F'HK> ----------
const yt = svg.append("g").attr("transform", "translate(56,805) rotate(-90)");
yt.append("text").attr("x", 0).attr("y", 0).attr("font-size", 38).text("log");
yt.append("text").attr("x", 84).attr("y", 0).attr("font-size", 40)
  .style("font-family", "DejaVu Sans").text("⟨");
yt.append("text").attr("x", 104).attr("y", 0).attr("font-size", 35).text("F");
yt.append("text").attr("x", 128).attr("y", -2).attr("font-size", 30).text("′");
yt.append("text").attr("x", 141).attr("y", 12).attr("font-size", 26).text("HK");
yt.append("text").attr("x", 192).attr("y", 0).attr("font-size", 40)
  .style("font-family", "DejaVu Sans").text("⟩");

// ---------- x-axis title and caption fragments ----------
svg.append("text").attr("x", 809).attr("y", 1513).attr("text-anchor", "middle")
  .attr("font-size", 46).attr("stroke", ink).attr("stroke-width", 0.6).text("Year");
svg.append("text").attr("x", -4).attr("y", 1468).attr("font-size", 31)
  .style("font-family", "Liberation Serif, Times New Roman, serif").attr("font-weight", "bold")
  .text("4.—The");
svg.append("line").attr("x1", 1384).attr("x2", 1384).attr("y1", 1433).attr("y2", 1508)
  .attr("stroke", "#222").attr("stroke-width", 3);
svg.append("text").attr("x", 1390).attr("y", 1472).attr("font-size", 38)
  .style("font-family", "Liberation Serif, Times New Roman, serif").attr("font-style", "italic")
  .text("(B−V)");
</script>
</body>
</html>
